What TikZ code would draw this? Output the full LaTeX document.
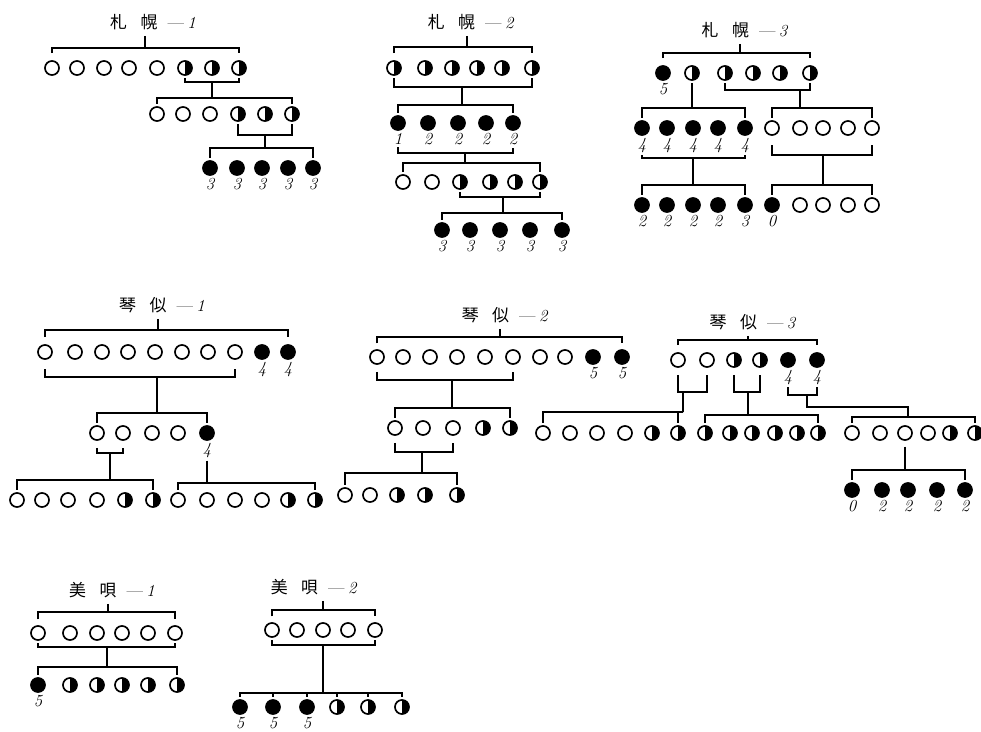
\documentclass[tikz,border=0pt]{standalone}
\usepackage{fontspec}
\newfontfamily\cjk{Noto Sans CJK JP}
\usepackage{tikz}
\usetikzlibrary{positioning}

\newcommand{\placename}[3]{{\cjk #1\hspace{.8em}#2}\hspace{.6em}---\hspace{.2em}\textit{#3}}

\tikzset{
  ind/.style={circle, draw, line width=1.4pt, minimum size=12pt, inner sep=0pt},
  opn/.style={ind},
  hlf/.style={ind, path picture={\fill (path picture bounding box.north) rectangle (path picture bounding box.south east);}},
  blk/.style={ind, fill},
  brk/.style={line width=1.5pt, shorten <=#1, shorten >=#1},
  brk/.default=2pt,
  stm/.style={line width=1.5pt},
  ttl/.style={font=\Large, inner sep=2pt},
  num/.style={font=\Large\itshape, inner sep=0pt},
}

\begin{document}
\begin{tikzpicture}[x=0.03cm, y=-0.03cm]
\useasboundingbox (0,0) rectangle (981,732);

% --- Sapporo 1
\node[ttl] (sa1-t) at (153,22) {\placename{札}{幌}{1}};
\coordinate (sa1-top) at (145,48);
\coordinate (sa1-u1) at (212,82);
\coordinate (sa1-d1) at (212,98);
\coordinate (sa1-u2) at (265,135);
\coordinate (sa1-d2) at (265,148);
\foreach \x/\ty [count=\i] in {52/opn,77/opn,104/opn,129/opn,157/opn,185/hlf,212/hlf,239/hlf}
  \node[\ty] (sa1-1-\i) at (\x,68) {};
\foreach \x/\ty [count=\i] in {157/opn,183/opn,210/opn,238/hlf,265/hlf,292/hlf}
  \node[\ty] (sa1-2-\i) at (\x,114) {};
\foreach \x/\lb [count=\i] in {210/3,237/3,262/3,288/3,313/3} {
  \node[blk] (sa1-3-\i) at (\x,168) {};
  \node[num, below=2pt of sa1-3-\i] (sa1-3-\i-n) {\lb};
}
\draw[stm, shorten <=3pt] (sa1-t.south -| sa1-top) -- (sa1-top);
\draw[brk=6pt] (sa1-1-1.north) |- (sa1-top) -| (sa1-1-8.north);
\draw[brk] (sa1-1-6.south) |- (sa1-u1) -| (sa1-1-8.south);
\draw[stm] (sa1-u1) -- (sa1-d1);
\draw[brk] (sa1-2-1.north) |- (sa1-d1) -| (sa1-2-6.north);
\draw[brk] (sa1-2-4.south) |- (sa1-u2) -| (sa1-2-6.south);
\draw[stm] (sa1-u2) -- (sa1-d2);
\draw[brk] (sa1-3-1.north) |- (sa1-d2) -| (sa1-3-5.north);

% --- Sapporo 2
\node[ttl] (sa2-t) at (471,22) {\placename{札}{幌}{2}};
\coordinate (sa2-top) at (467,47);
\coordinate (sa2-u1) at (462,87);
\coordinate (sa2-d1) at (462,105);
\coordinate (sa2-u2) at (465,153);
\coordinate (sa2-d2) at (465,163);
\coordinate (sa2-u3) at (503,197);
\coordinate (sa2-d3) at (503,213);
\foreach \x [count=\i] in {394,425,452,477,502,532}
  \node[hlf] (sa2-1-\i) at (\x,68) {};
\foreach \x/\lb [count=\i] in {398/1,428/2,458/2,486/2,513/2} {
  \node[blk] (sa2-2-\i) at (\x,123) {};
  \node[num, below=2pt of sa2-2-\i] (sa2-2-\i-n) {\lb};
}
\foreach \x/\ty [count=\i] in {403/opn,432/opn,460/hlf,490/hlf,515/hlf,540/hlf}
  \node[\ty] (sa2-3-\i) at (\x,182) {};
\foreach \x/\lb [count=\i] in {442/3,470/3,500/3,530/3,562/3} {
  \node[blk] (sa2-4-\i) at (\x,230) {};
  \node[num, below=2pt of sa2-4-\i] (sa2-4-\i-n) {\lb};
}
\draw[stm, shorten <=3pt] (sa2-t.south -| sa2-top) -- (sa2-top);
\draw[brk=6pt] (sa2-1-1.north) |- (sa2-top) -| (sa2-1-6.north);
\draw[brk] (sa2-1-1.south) |- (sa2-u1) -| (sa2-1-6.south);
\draw[stm] (sa2-u1) -- (sa2-d1);
\draw[brk] (sa2-2-1.north) |- (sa2-d1) -| (sa2-2-5.north);
\draw[brk] (sa2-2-1-n.south) |- (sa2-u2) -| (sa2-2-5-n.south);
\draw[stm] (sa2-u2) -- (sa2-d2);
\draw[brk] (sa2-3-1.north) |- (sa2-d2) -| (sa2-3-6.north);
\draw[brk] (sa2-3-3.south) |- (sa2-u3) -| (sa2-3-6.south);
\draw[stm] (sa2-u3) -- (sa2-d3);
\draw[brk] (sa2-4-1.north) |- (sa2-d3) -| (sa2-4-5.north);

% --- Sapporo 3
\node[ttl] (sa3-t) at (745,30) {\placename{札}{幌}{3}};
\coordinate (sa3-top) at (740,53);
\coordinate (sa3-da) at (692,108);
\coordinate (sa3-u1) at (800,90);
\coordinate (sa3-db) at (800,108);
\coordinate (sa3-u2a) at (693,158);
\coordinate (sa3-d2a) at (693,185);
\coordinate (sa3-u2b) at (823,155);
\coordinate (sa3-d2b) at (823,185);
\foreach \x/\ty [count=\i] in {663/blk,692/hlf,725/hlf,753/hlf,780/hlf,810/hlf}
  \node[\ty] (sa3-1-\i) at (\x,73) {};
\node[num, below=2pt of sa3-1-1] (sa3-1-1-n) {5};
\foreach \x/\ty [count=\i] in {642/blk,667/blk,693/blk,718/blk,745/blk,772/opn,800/opn,823/opn,848/opn,872/opn}
  \node[\ty] (sa3-2-\i) at (\x,128) {};
\foreach \i in {1,...,5}
  \node[num, below=2pt of sa3-2-\i] (sa3-2-\i-n) {4};
\foreach \x/\ty [count=\i] in {642/blk,667/blk,693/blk,718/blk,745/blk,772/blk,800/opn,823/opn,848/opn,872/opn}
  \node[\ty] (sa3-3-\i) at (\x,205) {};
\foreach \i/\lb in {1/2,2/2,3/2,4/2,5/3,6/0}
  \node[num, below=2pt of sa3-3-\i] (sa3-3-\i-n) {\lb};
\draw[stm, shorten <=3pt] (sa3-t.south -| sa3-top) -- (sa3-top);
\draw[brk=6pt] (sa3-1-1.north) |- (sa3-top) -| (sa3-1-6.north);
\draw[stm, shorten <=2pt] (sa3-1-2.south) -- (sa3-da);
\draw[brk] (sa3-2-1.north) |- (sa3-da) -| (sa3-2-5.north);
\draw[brk] (sa3-1-3.south) |- (sa3-u1) -| (sa3-1-6.south);
\draw[stm] (sa3-u1) -- (sa3-db);
\draw[brk] (sa3-2-6.north) |- (sa3-db) -| (sa3-2-10.north);
\draw[brk] (sa3-2-1-n.south) |- (sa3-u2a) -| (sa3-2-5-n.south);
\draw[stm] (sa3-u2a) -- (sa3-d2a);
\draw[brk=8pt] (sa3-2-6.south) |- (sa3-u2b) -| (sa3-2-10.south);
\draw[stm] (sa3-u2b) -- (sa3-d2b);
\draw[brk] (sa3-3-1.north) |- (sa3-d2a) -| (sa3-3-5.north);
\draw[brk] (sa3-3-6.north) |- (sa3-d2b) -| (sa3-3-10.north);

% --- Kotoni 1
\node[ttl] (ko1-t) at (162,305) {\placename{琴}{似}{1}};
\coordinate (ko1-top) at (158,330);
\coordinate (ko1-u1) at (157,377);
\coordinate (ko1-d1) at (157,413);
\coordinate (ko1-u2) at (110,453);
\coordinate (ko1-d2) at (110,480);
\coordinate (ko1-d3) at (207,483);
\foreach \x/\ty [count=\i] in {45/opn,75/opn,102/opn,128/opn,155/opn,182/opn,208/opn,235/opn,262/blk,288/blk}
  \node[\ty] (ko1-1-\i) at (\x,352) {};
\foreach \i in {9,10}
  \node[num, below=2pt of ko1-1-\i] (ko1-1-\i-n) {4};
\foreach \x/\ty [count=\i] in {97/opn,123/opn,152/opn,178/opn,207/blk}
  \node[\ty] (ko1-2-\i) at (\x,433) {};
\node[num, below=2pt of ko1-2-5] (ko1-2-5-n) {4};
\foreach \x/\ty [count=\i] in {17/opn,42/opn,68/opn,97/opn,125/hlf,153/hlf,178/opn,207/opn,235/opn,262/opn,288/hlf,315/hlf}
  \node[\ty] (ko1-3-\i) at (\x,500) {};
\draw[stm, shorten <=3pt] (ko1-t.south -| ko1-top) -- (ko1-top);
\draw[brk=6pt] (ko1-1-1.north) |- (ko1-top) -| (ko1-1-10.north);
\draw[brk=8pt] (ko1-1-1.south) |- (ko1-u1) -| (ko1-1-8.south);
\draw[stm] (ko1-u1) -- (ko1-d1);
\draw[brk] (ko1-2-1.north) |- (ko1-d1) -| (ko1-2-5.north);
\draw[brk=6pt] (ko1-2-1.south) |- (ko1-u2) -| (ko1-2-2.south);
\draw[stm] (ko1-u2) -- (ko1-d2);
\draw[brk] (ko1-3-1.north) |- (ko1-d2) -| (ko1-3-6.north);
\draw[stm, shorten <=2pt] (ko1-2-5-n.south) -- (ko1-d3);
\draw[brk] (ko1-3-7.north) |- (ko1-d3) -| (ko1-3-12.north);

% --- Kotoni 2
\node[ttl] (ko2-t) at (505,315) {\placename{琴}{似}{2}};
\coordinate (ko2-top) at (500,337);
\coordinate (ko2-u1) at (452,380);
\coordinate (ko2-d1) at (452,408);
\coordinate (ko2-u2) at (422,452);
\coordinate (ko2-d2) at (422,473);
\foreach \x/\ty [count=\i] in {377/opn,403/opn,430/opn,457/opn,485/opn,513/opn,540/opn,565/opn,593/blk,622/blk}
  \node[\ty] (ko2-1-\i) at (\x,357) {};
\foreach \i in {9,10}
  \node[num, below=2pt of ko2-1-\i] (ko2-1-\i-n) {5};
\foreach \x/\ty [count=\i] in {395/opn,423/opn,453/opn,483/hlf,510/hlf}
  \node[\ty] (ko2-2-\i) at (\x,428) {};
\foreach \x/\ty [count=\i] in {345/opn,370/opn,397/hlf,425/hlf,457/hlf}
  \node[\ty] (ko2-3-\i) at (\x,495) {};
\draw[stm, shorten <=3pt] (ko2-t.south -| ko2-top) -- (ko2-top);
\draw[brk=5pt] (ko2-1-1.north) |- (ko2-top) -| (ko2-1-10.north);
\draw[brk=6pt] (ko2-1-1.south) |- (ko2-u1) -| (ko2-1-6.south);
\draw[stm] (ko2-u1) -- (ko2-d1);
\draw[brk] (ko2-2-1.north) |- (ko2-d1) -| (ko2-2-5.north);
\draw[brk=6pt] (ko2-2-1.south) |- (ko2-u2) -| (ko2-2-3.south);
\draw[stm] (ko2-u2) -- (ko2-d2);
\draw[brk] (ko2-3-1.north) |- (ko2-d2) -| (ko2-3-5.north);

% --- Kotoni 3
\node[ttl] (ko3-t) at (753,322) {\placename{琴}{似}{3}};
\coordinate (ko3-top) at (748,340);
\coordinate (ko3-ua) at (683,392);
\coordinate (ko3-da) at (683,412);
\coordinate (ko3-ub) at (748,392);
\coordinate (ko3-db) at (748,415);
\coordinate (ko3-uc) at (807,395);
\coordinate (ko3-ec) at (807,407);
\coordinate (ko3-dc) at (908,417);
\coordinate (ko3-d3) at (905,470);
\foreach \x/\ty [count=\i] in {678/opn,707/opn,734/hlf,760/hlf,788/blk,817/blk}
  \node[\ty] (ko3-1-\i) at (\x,360) {};
\foreach \i in {5,6}
  \node[num, below=2pt of ko3-1-\i] (ko3-1-\i-n) {4};
\foreach \x/\ty [count=\i] in {543/opn,570/opn,597/opn,625/opn,652/hlf,678/hlf,705/hlf,730/hlf,752/hlf,775/hlf,797/hlf,818/hlf,852/opn,880/opn,905/opn,928/opn,950/hlf,975/hlf}
  \node[\ty] (ko3-2-\i) at (\x,433) {};
\foreach \x/\lb [count=\i] in {852/0,882/2,908/2,937/2,965/2} {
  \node[blk] (ko3-3-\i) at (\x,490) {};
  \node[num, below=2pt of ko3-3-\i] (ko3-3-\i-n) {\lb};
}
\draw[stm, shorten <=3pt] (ko3-t.south -| ko3-top) -- (ko3-top);
\draw[brk=6pt] (ko3-1-1.north) |- (ko3-top) -| (ko3-1-6.north);
\draw[brk=6pt] (ko3-1-1.south) |- (ko3-ua) -| (ko3-1-2.south);
\draw[stm] (ko3-ua) -- (ko3-da);
\draw[brk] (ko3-2-1.north) |- (ko3-da) -| (ko3-2-6.north);
\draw[brk=6pt] (ko3-1-3.south) |- (ko3-ub) -| (ko3-1-4.south);
\draw[stm] (ko3-ub) -- (ko3-db);
\draw[brk] (ko3-2-7.north) |- (ko3-db) -| (ko3-2-12.north);
\draw[brk] (ko3-1-5-n.south) |- (ko3-uc) -| (ko3-1-6-n.south);
\draw[stm] (ko3-uc) -- (ko3-ec) -| (ko3-dc);
\draw[brk] (ko3-2-13.north) |- (ko3-dc) -| (ko3-2-18.north);
\draw[stm, shorten <=5pt] (ko3-2-15.south) -- (ko3-d3);
\draw[brk] (ko3-3-1.north) |- (ko3-d3) -| (ko3-3-5.north);

% --- Bibai 1
\node[ttl] (bi1-t) at (112,590) {\placename{美}{唄}{1}};
\coordinate (bi1-top) at (108,612);
\coordinate (bi1-u1) at (107,647);
\coordinate (bi1-d1) at (107,667);
\foreach \x [count=\i] in {38,70,97,122,148,175}
  \node[opn] (bi1-1-\i) at (\x,633) {};
\foreach \x/\ty [count=\i] in {38/blk,70/hlf,97/hlf,122/hlf,148/hlf,177/hlf}
  \node[\ty] (bi1-2-\i) at (\x,685) {};
\node[num, below=2pt of bi1-2-1] (bi1-2-1-n) {5};
\draw[stm, shorten <=3pt] (bi1-t.south -| bi1-top) -- (bi1-top);
\draw[brk=5pt] (bi1-1-1.north) |- (bi1-top) -| (bi1-1-6.north);
\draw[brk] (bi1-1-1.south) |- (bi1-u1) -| (bi1-1-6.south);
\draw[stm] (bi1-u1) -- (bi1-d1);
\draw[brk] (bi1-2-1.north) |- (bi1-d1) -| (bi1-2-6.north);

% --- Bibai 2
\node[ttl] (bi2-t) at (314,587) {\placename{美}{唄}{2}};
\coordinate (bi2-top) at (323,610);
\coordinate (bi2-u1) at (323,645);
\coordinate (bi2-d1) at (323,693);
\foreach \x [count=\i] in {272,297,323,348,375}
  \node[opn] (bi2-1-\i) at (\x,630) {};
\foreach \x/\ty [count=\i] in {240/blk,273/blk,307/blk,337/hlf,368/hlf,402/hlf}
  \node[\ty] (bi2-2-\i) at (\x,707) {};
\foreach \i in {1,2,3}
  \node[num, below=2pt of bi2-2-\i] (bi2-2-\i-n) {5};
\draw[stm, shorten <=3pt] (bi2-t.south -| bi2-top) -- (bi2-top);
\draw[brk=5pt] (bi2-1-1.north) |- (bi2-top) -| (bi2-1-5.north);
\draw[brk] (bi2-1-1.south) |- (bi2-u1) -| (bi2-1-5.south);
\draw[stm] (bi2-u1) -- (bi2-d1);
\draw[brk] (bi2-2-1.north) |- (bi2-d1) -| (bi2-2-6.north);
\foreach \i in {2,...,5}
  \draw[stm, shorten <=2pt] (bi2-2-\i.north) -- (bi2-2-\i.north |- bi2-d1);
\end{tikzpicture}
\end{document}
